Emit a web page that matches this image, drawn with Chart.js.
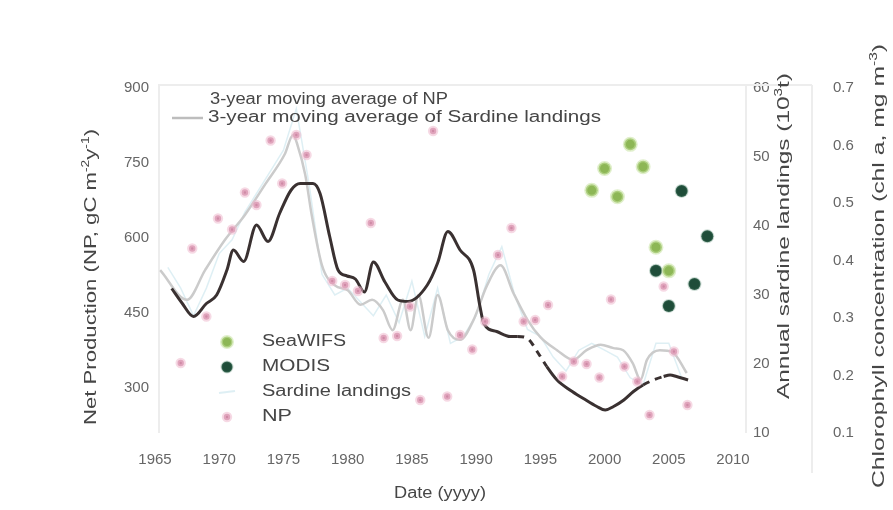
<!DOCTYPE html>
<html>
<head>
<meta charset="utf-8">
<script src="https://cdn.jsdelivr.net/npm/chart.js@4.4.1/dist/chart.umd.min.js"></script>
<style>
  html, body { margin: 0; padding: 0; background: #ffffff; }
  #wrap { width: 893px; height: 510px; position: relative; }
</style>
</head>
<body>
<div id="wrap"><canvas id="chart" width="893" height="510"></canvas></div>
<script>
// Annual net production (NP, gC m-2 y-1)
const NP_YEARS  = [1967.0, 1967.9, 1969.0, 1969.9, 1971.0, 1972.0, 1972.9, 1974.0, 1974.9, 1976.0,
                   1976.8, 1978.8, 1979.8, 1980.8, 1981.8, 1982.8, 1983.85, 1984.85, 1985.65, 1986.65,
                   1987.75, 1988.75, 1989.7, 1990.7, 1991.7, 1992.75, 1993.7, 1994.6, 1995.6, 1996.7,
                   1997.6, 1998.6, 1999.6, 2000.5, 2001.55, 2002.55, 2003.5, 2004.6, 2005.4, 2006.45];
const NP_VALUES = [350, 579, 443, 639, 617, 691, 666, 795, 709, 806,
                   766, 514, 506, 494, 630, 400, 404, 463, 276, 814,
                   283, 406, 377, 433, 566, 620, 433, 436, 466, 323,
                   353, 348, 321, 477, 343, 313, 246, 503, 373, 266];

// 3-year moving average of NP
const NP_MA_YEARS  = [1966.3, 1967.1, 1968.0, 1969.0, 1969.8, 1970.6, 1971.1, 1971.9, 1972.9, 1973.8,
                      1974.7, 1975.6, 1976.3, 1977.3, 1977.85, 1978.6, 1979.25, 1979.95, 1980.6, 1981.3,
                      1982.0, 1982.9, 1983.9, 1984.7, 1986.2, 1987.0, 1987.8, 1988.75, 1989.8, 1990.3,
                      1990.6, 1991.6, 1992.65, 1993.2, 1993.95, 1994.85, 1995.5, 1996.3, 1997.3, 1998.35,
                      1999.4, 2000.05, 2000.7, 2001.5, 2002.25, 2003.0, 2003.8, 2004.6, 2005.1, 2005.6, 2006.5];
const NP_MA_VALUES = [499, 470, 443, 469, 486, 536, 576, 553, 626, 593,
                      649, 696, 709, 709, 689, 603, 536, 524, 518, 492,
                      552, 512, 476, 473, 506, 550, 613, 576, 536, 463,
                      429, 413, 403, 403, 400, 369, 343, 316, 296, 279,
                      263, 256, 263, 276, 293, 306, 316, 323, 326, 323, 316];
// stretches of the NP average that are bridged with a dashed line
const NP_MA_DASHED = [[1993.2, 1995.5], [2003.0, 2004.6]];

// Annual sardine landings (10^3 t)
const SARDINE_YEARS  = [1966, 1967, 1968, 1969, 1970, 1971, 1972, 1973, 1974, 1975,
                        1976, 1977, 1978, 1979, 1980, 1981, 1982, 1983, 1984, 1985,
                        1986, 1987, 1988, 1989, 1990, 1991, 1992, 1993, 1994, 1995,
                        1996, 1997, 1998, 1999, 2000, 2001, 2002, 2003, 2004, 2005, 2006];
const SARDINE_VALUES = [34, 31, 27, 31, 36, 38, 42, 45, 48, 51,
                        57, 46, 33, 30, 31, 29, 27, 30, 26, 32,
                        24, 31, 23, 24, 27, 33, 37, 30, 25, 24,
                        21, 19, 22, 23, 22, 21, 18, 17, 23, 23, 18];

// 3-year moving average of sardine landings
const SARDINE_MA_YEARS  = [1965.4, 1967.5, 1968.9, 1970.45, 1972.0, 1973.6, 1975.1, 1975.75, 1976.1, 1976.7,
                           1977.2, 1978.0, 1979.0, 1980.0, 1981.0, 1981.9, 1982.75, 1983.5, 1984.3, 1984.9,
                           1985.5, 1986.3, 1987.0, 1987.8, 1988.75, 1989.8, 1990.85, 1991.9, 1992.9, 1994.0,
                           1995.0, 1996.3, 1997.55, 1998.6, 1999.7, 2000.7, 2001.45, 2002.2, 2002.8, 2003.3,
                           2004.3, 2005.3, 2006.4];
const SARDINE_MA_VALUES = [33.6, 29.3, 33.6, 38.0, 41.6, 46.1, 50.4, 53.2, 51.7, 47.4,
                           41.6, 34.3, 31.4, 30.7, 28.6, 29.3, 27.8, 24.9, 29.3, 24.9,
                           30.0, 23.8, 30.0, 24.9, 23.5, 26.4, 31.4, 34.3, 30.3, 26.4,
                           23.9, 22.0, 20.6, 22.0, 22.8, 22.3, 22.0, 20.1, 17.7, 20.6,
                           22.0, 21.7, 18.7];

// Satellite chlorophyll (chl a, mg m-3)
const SEAWIFS_YEARS = [1999, 2000, 2001, 2002, 2003, 2004, 2005];
const SEAWIFS_CHL   = [0.522, 0.560, 0.511, 0.602, 0.563, 0.423, 0.382];
const MODIS_YEARS   = [2004, 2005, 2006, 2007, 2008];
const MODIS_CHL     = [0.382, 0.321, 0.521, 0.359, 0.442];

// Tick labels
const X_TICKS       = [1965, 1970, 1975, 1980, 1985, 1990, 1995, 2000, 2005, 2010];
const NP_TICKS      = [300, 450, 600, 750, 900];
const SARDINE_TICKS = [10, 20, 30, 40, 50, 60];
const CHL_TICKS     = [0.1, 0.2, 0.3, 0.4, 0.5, 0.6, 0.7];

const FONT = "'Liberation Sans', Arial, Helvetica, sans-serif";
const TICK_COLOR = '#666666';
const TEXT_COLOR = '#464646';

const C = {
  npMA: '#3a3131',
  sardineMA: '#cbcbcb',
  sardine: 'rgba(200,228,236,0.6)',
  np: '#cf8aa6',
  npHalo: 'rgba(238,186,206,0.55)',
  seawifs: '#8db756',
  seawifsHalo: 'rgba(198,226,160,0.55)',
  modis: '#1f4d39',
  modisHalo: 'rgba(90,140,115,0.30)'
};

const pts = (xs, ys) => xs.map((x, i) => ({ x, y: ys[i] }));
const inDashed = (a, b) => NP_MA_DASHED.some(([s, e]) => a >= s - 1e-6 && b <= e + 1e-6);
const fixTicks = list => scale => { scale.ticks = list.map(v => ({ value: v })); };

// draws a line of text made of plain and superscript runs, optionally rotated,
// stretched along its length to a given span
function drawRich(ctx, runs, x, y, size, color, opts) {
  const o = Object.assign({ rotate: 0, span: null, align: 'center' }, opts || {});
  ctx.save();
  ctx.fillStyle = color;
  ctx.textBaseline = 'middle';
  ctx.textAlign = 'left';
  const supSize = Math.round(size * 0.62);
  let total = 0;
  const widths = runs.map(r => {
    ctx.font = (r.sup ? supSize : size) + 'px ' + FONT;
    const w = ctx.measureText(r.t).width;
    total += w;
    return w;
  });
  const sx = o.span ? o.span / total : 1;
  ctx.translate(x, y);
  if (o.rotate) ctx.rotate(o.rotate);
  ctx.scale(sx, 1);
  let cx = o.align === 'center' ? -total / 2 : 0;
  runs.forEach((r, i) => {
    ctx.font = (r.sup ? supSize : size) + 'px ' + FONT;
    ctx.fillText(r.t, cx, r.sup ? -size * 0.38 : 0);
    cx += widths[i];
  });
  ctx.restore();
}

const decorations = {
  id: 'decorations',
  beforeDatasetsDraw(chart) {
    const { ctx, chartArea: a } = chart;
    ctx.save();
    ctx.strokeStyle = '#ededed';
    ctx.lineWidth = 2;
    ctx.beginPath();
    ctx.moveTo(a.left + 4, a.bottom);
    ctx.lineTo(a.left + 4, a.top - 3);
    ctx.lineTo(a.right + 75, a.top - 3);
    ctx.moveTo(a.right + 9, a.top - 3);
    ctx.lineTo(a.right + 9, a.bottom);
    ctx.moveTo(a.right + 75, a.top - 3);
    ctx.lineTo(a.right + 75, a.bottom + 40);
    ctx.stroke();
    ctx.restore();
  },
  afterDraw(chart) {
    const { ctx } = chart;
    // axis titles
    drawRich(ctx, [{ t: 'Net Production (NP, gC m' }, { t: '-2', sup: true }, { t: 'y' }, { t: '-1', sup: true }, { t: ')' }],
      92, 277, 16, TEXT_COLOR, { rotate: -Math.PI / 2, span: 296 });
    drawRich(ctx, [{ t: 'Annual sardine landings (10' }, { t: '3', sup: true }, { t: 't)' }],
      785, 236, 16, TEXT_COLOR, { rotate: -Math.PI / 2, span: 326 });
    drawRich(ctx, [{ t: 'Chlorophyll concentration (chl a, mg m' }, { t: '-3', sup: true }, { t: ')' }],
      880, 266, 16, TEXT_COLOR, { rotate: -Math.PI / 2, span: 444 });
    drawRich(ctx, [{ t: 'Date (yyyy)' }], 440, 494, 16, TEXT_COLOR, { span: 92 });

    // legend of the two running means
    ctx.save();
    ctx.strokeStyle = '#bdbdbd';
    ctx.lineWidth = 2.5;
    ctx.beginPath(); ctx.moveTo(172, 118); ctx.lineTo(203, 118); ctx.stroke();
    ctx.restore();
    drawRich(ctx, [{ t: '3-year moving average of NP' }], 210, 100, 16, TEXT_COLOR, { align: 'left', span: 238 });
    drawRich(ctx, [{ t: '3-year moving average of Sardine landings' }], 208, 118, 16, TEXT_COLOR, { align: 'left', span: 393 });

    // legend of the point series
    const dot = (x, y, r, fill, halo, hw) => {
      ctx.save();
      ctx.beginPath(); ctx.arc(x, y, r, 0, Math.PI * 2);
      ctx.fillStyle = fill; ctx.fill();
      ctx.lineWidth = hw; ctx.strokeStyle = halo; ctx.stroke();
      ctx.restore();
    };
    dot(227, 342, 5.5, C.seawifs, C.seawifsHalo, 3);
    dot(227, 367, 5.5, C.modis, C.modisHalo, 2);
    ctx.save();
    ctx.strokeStyle = C.sardine; ctx.lineWidth = 2;
    ctx.beginPath(); ctx.moveTo(219, 393); ctx.lineTo(235, 391); ctx.stroke();
    ctx.restore();
    dot(227, 417, 3.2, C.np, C.npHalo, 4);
    const items = ['SeaWIFS', 'MODIS', 'Sardine landings', 'NP'];
    const spans = [84, 68, 149, 30];
    items.forEach((t, i) => drawRich(ctx, [{ t }], 262, 342 + i * 25, 16, TEXT_COLOR, { align: 'left', span: spans[i] }));
  }
};

new Chart(document.getElementById('chart'), {
  type: 'line',
  data: {
    datasets: [
      {
        label: 'SeaWIFS', type: 'scatter', yAxisID: 'yChl',
        data: pts(SEAWIFS_YEARS, SEAWIFS_CHL),
        pointRadius: 6, pointBackgroundColor: C.seawifs,
        pointBorderColor: C.seawifsHalo, pointBorderWidth: 3, showLine: false
      },
      {
        label: 'MODIS', type: 'scatter', yAxisID: 'yChl',
        data: pts(MODIS_YEARS, MODIS_CHL),
        pointRadius: 6, pointBackgroundColor: C.modis,
        pointBorderColor: C.modisHalo, pointBorderWidth: 2, showLine: false
      },
      {
        label: 'NP', type: 'scatter', yAxisID: 'yNP',
        data: pts(NP_YEARS, NP_VALUES),
        pointRadius: 3.2, pointBackgroundColor: C.np,
        pointBorderColor: C.npHalo, pointBorderWidth: 4, showLine: false
      },
      {
        label: '3-year moving average of NP', yAxisID: 'yNP',
        data: pts(NP_MA_YEARS, NP_MA_VALUES),
        borderColor: C.npMA, borderWidth: 3, pointRadius: 0,
        cubicInterpolationMode: 'monotone', fill: false,
        segment: {
          borderDash: c => inDashed(c.p0.parsed.x, c.p1.parsed.x) ? [7, 6] : undefined
        }
      },
      {
        label: '3-year moving average of Sardine landings', yAxisID: 'ySar',
        data: pts(SARDINE_MA_YEARS, SARDINE_MA_VALUES),
        borderColor: C.sardineMA, borderWidth: 2.5, pointRadius: 0,
        cubicInterpolationMode: 'monotone', fill: false
      },
      {
        label: 'Sardine landings', yAxisID: 'ySar',
        data: pts(SARDINE_YEARS, SARDINE_VALUES),
        borderColor: C.sardine, borderWidth: 1.5, pointRadius: 0,
        tension: 0, fill: false
      }
    ]
  },
  options: {
    responsive: false,
    animation: false,
    devicePixelRatio: 1,
    layout: { padding: { top: 88, left: 0, right: 0, bottom: 0 } },
    plugins: { legend: { display: false }, tooltip: { enabled: false } },
    scales: {
      x: {
        type: 'linear', min: 1965, max: 2010.31,
        afterBuildTicks: fixTicks(X_TICKS),
        afterFit: s => { s.height = 77; },
        grid: { display: false, drawTicks: false },
        border: { display: false },
        ticks: { padding: 18, color: TICK_COLOR, font: { family: FONT, size: 15 }, callback: v => String(v), maxRotation: 0, autoSkip: false }
      },
      yNP: {
        type: 'linear', position: 'left', min: 210, max: 900,
        afterBuildTicks: fixTicks(NP_TICKS),
        afterFit: s => { s.width = 155; },
        grid: { display: false, drawTicks: false },
        border: { display: false },
        ticks: { padding: 6, color: TICK_COLOR, font: { family: FONT, size: 15 } }
      },
      ySar: {
        type: 'linear', position: 'right', min: 10, max: 60,
        afterBuildTicks: fixTicks(SARDINE_TICKS),
        afterFit: s => { s.width = 75; },
        grid: { display: false, drawTicks: false },
        border: { display: false },
        ticks: { padding: 16, color: TICK_COLOR, font: { family: FONT, size: 15 } }
      },
      yChl: {
        type: 'linear', position: 'right', min: 0.1, max: 0.7,
        afterBuildTicks: fixTicks(CHL_TICKS),
        afterFit: s => { s.width = 81; },
        grid: { display: false, drawTicks: false },
        border: { display: false },
        ticks: { padding: 21, color: TICK_COLOR, font: { family: FONT, size: 15 }, callback: v => v.toFixed(1) }
      }
    }
  },
  plugins: [decorations]
});
</script>
</body>
</html>
